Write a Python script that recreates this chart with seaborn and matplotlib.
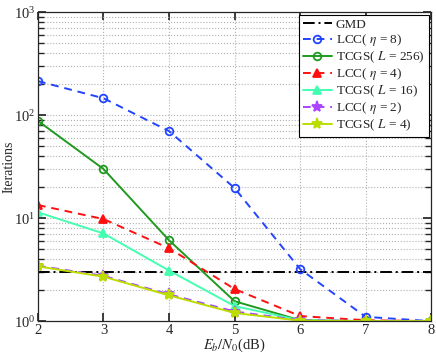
import matplotlib.pyplot as plt
import seaborn as sns
import pandas as pd

# data
snr = [2, 3, 4, 5, 6, 7, 8]
gmd = [3.0] * 7
lcc8 = [214, 146, 70, 19.6, 3.2, 1.1, 1.0]
tcgs256 = [88, 30, 6.1, 1.56, 1.02, 1.0, 1.0]
lcc4 = [13.4, 9.8, 5.1, 2.05, 1.12, 1.02, 1.0]
tcgs16 = [11.4, 7.1, 3.1, 1.4, 1.02, 1.0, 1.0]
lcc2 = [3.45, 2.75, 1.82, 1.24, 1.02, 1.0, 1.0]
tcgs4 = [3.4, 2.7, 1.78, 1.2, 1.01, 1.0, 1.0]

labels = ["GMD", r"LCC( $\eta$ = 8)", r"TCGS( $L$ = 256)", r"LCC( $\eta$ = 4)",
          r"TCGS( $L$ = 16)", r"LCC( $\eta$ = 2)", r"TCGS( $L$ = 4)"]
series = [gmd, lcc8, tcgs256, lcc4, tcgs16, lcc2, tcgs4]

sns.set_theme(style="ticks")
plt.rcParams["font.family"] = ["Liberation Serif", "DejaVu Serif"]
plt.rcParams["mathtext.fontset"] = "stix"
plt.rcParams["xtick.direction"] = "in"
plt.rcParams["ytick.direction"] = "in"

f = plt.figure(figsize=(4.36, 3.58), dpi=100)
ax = f.add_axes([0.087, 0.103, 0.902, 0.863])

styles = [
    dict(color="black", ls=(0, (6, 2, 1, 2)), marker=None, mfc="none"),
    dict(color="#2244ff", ls=(0, (4, 3)), marker="o", mfc="none"),
    dict(color="#1f9a1f", ls="-", marker="o", mfc="none"),
    dict(color="#ff1010", ls=(0, (4, 3)), marker="^", mfc="#ff1010"),
    dict(color="#44ffb0", ls="-", marker="^", mfc="#44ffb0"),
    dict(color="#aa44ff", ls=(0, (4, 3)), marker="*", mfc="#aa44ff"),
    dict(color="#bbdd00", ls="-", marker="*", mfc="#bbdd00"),
]

for lab, vals, st in zip(labels, series, styles):
    df = pd.DataFrame({"snr": snr, "it": vals})
    ms = 8 if st["marker"] == "*" else 5.5
    sns.lineplot(data=df, x="snr", y="it", ax=ax, label=lab, color=st["color"],
                 linestyle=st["ls"], marker=st["marker"], markersize=ms,
                 markerfacecolor=st["mfc"], markeredgecolor=st["color"],
                 markeredgewidth=1.3, linewidth=1.4)

ax.set_yscale("log")
ax.set_xlim(2, 8)
ax.set_ylim(1, 1000)
ax.set_xticks(snr)
ax.set_xlabel(r"$E_b/N_0$(dB)", fontsize=10.5, labelpad=0)
ax.set_ylabel("Iterations", fontsize=10, labelpad=-1)
ax.tick_params(which="both", top=True, right=True, labelsize=10.5, pad=2)
ax.grid(True, which="major", ls=":", color="#b0b0b0", lw=0.8)
ax.grid(True, which="minor", axis="y", ls=":", color="#b0b0b0", lw=0.8)
for s in ax.spines.values():
    s.set_linewidth(0.9)

leg = ax.legend(loc="upper right", fontsize=9.5, frameon=True, fancybox=False,
                edgecolor="black", framealpha=1, handlelength=2.2,
                handletextpad=0.3, borderpad=0.3, labelspacing=0.1,
                borderaxespad=0.2)
leg.get_frame().set_linewidth(0.8)

f.savefig("out.png", dpi=100)
